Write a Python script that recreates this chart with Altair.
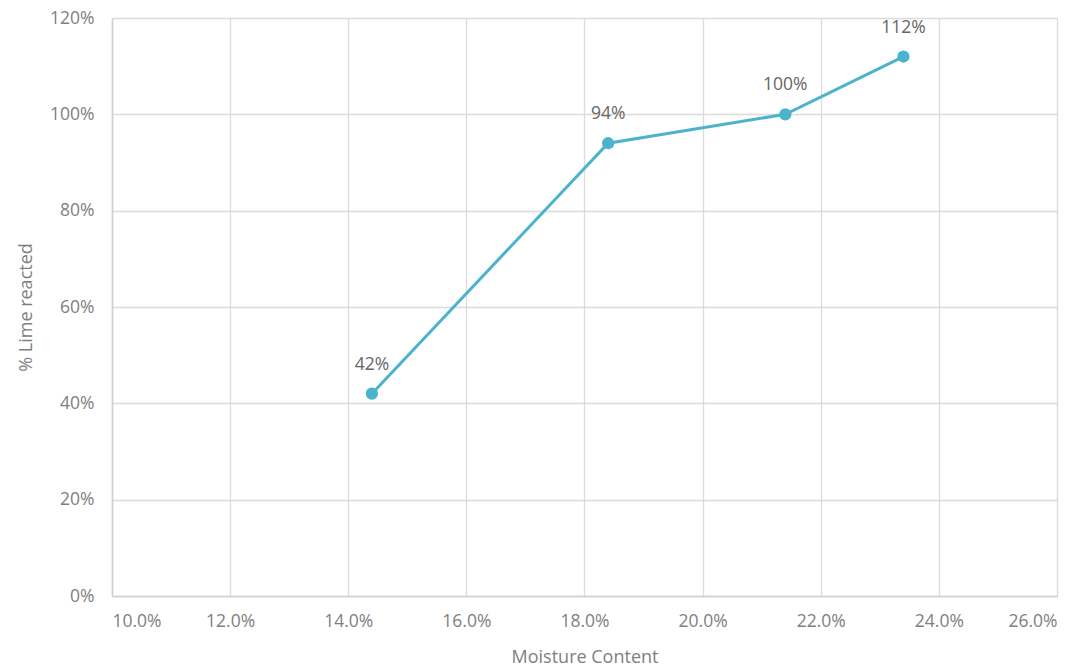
import altair as alt
import pandas as pd

moisture = [0.144, 0.184, 0.214, 0.234]
lime = [0.42, 0.94, 1.00, 1.12]
labels = ["42%", "94%", "100%", "112%"]

df = pd.DataFrame({"moisture": moisture, "lime": lime, "label": labels})

FONT = "Open Sans"
GRAY = "#808080"
COLOR = "#4bb3cb"

x = alt.X("moisture:Q", title="Moisture Content",
          scale=alt.Scale(domain=[0.10, 0.26], nice=False),
          axis=alt.Axis(format=".1%", values=[0.10, 0.12, 0.14, 0.16, 0.18, 0.20, 0.22, 0.24, 0.26],
                        tickSize=0, labelPadding=16, titlePadding=19,
                        domainColor="#d0d0d0", gridColor="#dcdcdc"))
y = alt.Y("lime:Q", title="% Lime reacted",
          scale=alt.Scale(domain=[0, 1.2], nice=False),
          axis=alt.Axis(format=".0%", values=[0, 0.2, 0.4, 0.6, 0.8, 1.0, 1.2],
                        tickSize=0, labelPadding=18, titlePadding=14,
                        domainColor="#d0d0d0", gridColor="#dcdcdc"))

base = alt.Chart(df)
line = base.mark_line(color=COLOR, strokeWidth=3).encode(x=x, y=y)
pts = base.mark_point(color=COLOR, filled=True, size=150, opacity=1).encode(x=x, y=y)
txt = base.mark_text(dy=-29, font=FONT, fontSize=17.5, color="#666666").encode(x=x, y=y, text="label:N")

chart = (line + pts + txt).properties(
    width=945, height=578,
    autosize=alt.AutoSizeParams(type="none"),
    padding={"left": 112, "top": 18, "right": 27, "bottom": 73},
).configure_view(stroke=None).configure_axis(
    labelFont=FONT, titleFont=FONT, labelFontSize=17.5, titleFontSize=18,
    labelColor=GRAY, titleColor=GRAY, titleFontWeight="normal", gridWidth=1.3, domainWidth=1.5,
)

chart.save("out.html", embed_options={"renderer": "svg", "actions": False})
